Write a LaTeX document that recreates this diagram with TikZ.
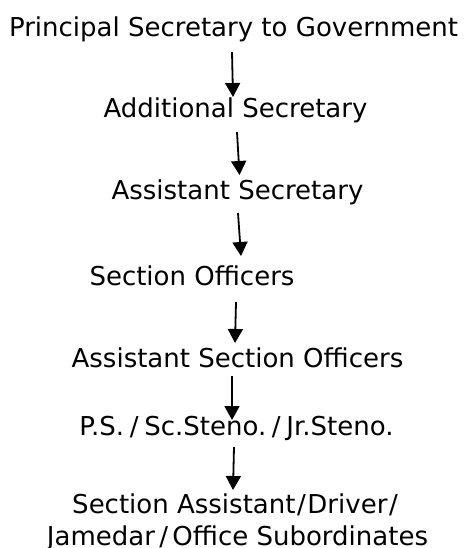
\documentclass[tikz,border=0pt]{standalone}
\usepackage{fontspec}
\setmainfont{DejaVu Sans}
\usetikzlibrary{arrows.meta}
\begin{document}
\begin{tikzpicture}[x=1pt,y=-1pt,
  lbl/.style={inner sep=0pt,anchor=base,font=\fontsize{26}{33}\selectfont,align=center},
  conn/.style={line width=1.8pt,-{Triangle[length=14pt,width=15pt]}}]
\useasboundingbox (0,0) rectangle (468,548);
\node[lbl] (n1) at (233.5,37) {Principal Secretary to Government};
\node[lbl] (n2) at (235.5,118) {Additional Secretary};
\node[lbl] (n3) at (237.5,199) {Assistant Secretary};
\node[lbl] (n4) at (192,285) {Section Officers};
\node[lbl] (n5) at (237.5,367) {Assistant Section Officers};
\node[lbl] (n6) at (236.5,435) {P.S.\hspace{0.22em}/\hspace{0.22em}Sc.Steno.\hspace{0.22em}/\hspace{0.22em}Jr.Steno.};
\node[lbl] (n7) at (235,513) {Section Assistant\hspace{0.06em}/\hspace{0.06em}Driver\hspace{0.06em}/};
\node[lbl] (n8) at (237.5,545) {Jamedar\,/\,Office Subordinates};
\coordinate (a1s) at (232,52);  \coordinate (a1e) at (233,97);
\coordinate (a2s) at (237,132); \coordinate (a2e) at (239.5,175);
\coordinate (a3s) at (238,213); \coordinate (a3e) at (241,256);
\coordinate (a4s) at (236,302); \coordinate (a4e) at (235,343);
\coordinate (a5s) at (232,376); \coordinate (a5e) at (232,420);
\coordinate (a6s) at (234,447); \coordinate (a6e) at (233,490);
\draw[conn] (a1s) -- (a1e);
\draw[conn] (a2s) -- (a2e);
\draw[conn] (a3s) -- (a3e);
\draw[conn] (a4s) -- (a4e);
\draw[conn] (a5s) -- (a5e);
\draw[conn] (a6s) -- (a6e);
\end{tikzpicture}
\end{document}
